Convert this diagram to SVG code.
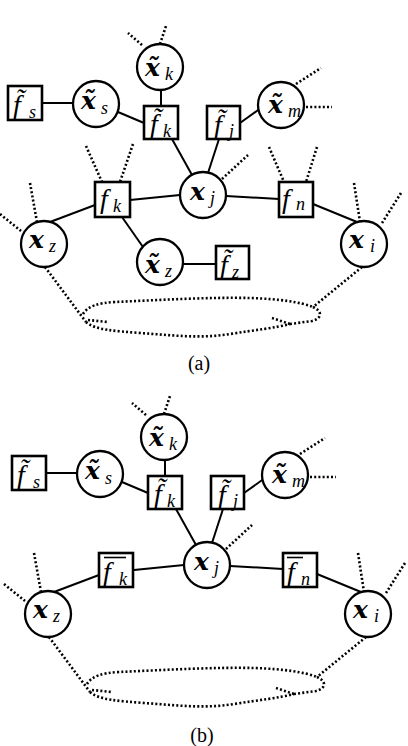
<svg xmlns="http://www.w3.org/2000/svg" width="408" height="746" viewBox="0 0 408 746">
<style>
.n{fill:#fff;stroke:#000;stroke-width:2.3}
.b{fill:#fff;stroke:#000;stroke-width:2.6}
.e{stroke:#000;stroke-width:2;fill:none}
.d{stroke:#000;stroke-width:2.6;fill:none;stroke-dasharray:2 2.2}
.bar{stroke:#000;stroke-width:1.6}
.mx{font-family:"DejaVu Serif",serif;font-weight:bold;font-style:italic;font-size:25px}
.mf{font-family:"Liberation Serif",serif;font-style:italic;font-size:28px}
.s{font-family:"Liberation Serif",serif;font-weight:normal;font-style:italic;font-size:18px}
.cap{font-family:"Liberation Serif",serif;font-size:20px;text-anchor:middle}
</style>
<rect width="408" height="746" fill="#fff"/>

<!-- ===== Panel (a) ===== -->
<g id="panel-a">
<g id="a-edges">
<line class="e" x1="42" y1="103" x2="73" y2="103"/>
<line class="e" x1="118" y1="112" x2="144" y2="123"/>
<line class="e" x1="161" y1="90" x2="161" y2="106"/>
<line class="e" x1="172" y1="139" x2="192" y2="175"/>
<line class="e" x1="219" y1="139" x2="208" y2="173"/>
<line class="e" x1="240" y1="123" x2="261" y2="108"/>
<line class="e" x1="50" y1="222" x2="95" y2="205"/>
<line class="e" x1="130" y1="200" x2="180" y2="195"/>
<line class="e" x1="122" y1="217" x2="143" y2="247"/>
<line class="e" x1="183" y1="264" x2="216" y2="264"/>
<line class="e" x1="226" y1="196" x2="279" y2="199"/>
<line class="e" x1="313" y1="204" x2="357" y2="222"/>
<line class="d" x1="142" y1="45" x2="128" y2="33"/>
<line class="d" x1="160" y1="44" x2="166" y2="26"/>
<line class="d" x1="86" y1="146" x2="102" y2="182"/>
<line class="d" x1="133" y1="144" x2="120" y2="182"/>
<line class="d" x1="269" y1="147" x2="284" y2="182"/>
<line class="d" x1="317" y1="147" x2="306" y2="182"/>
<line class="d" x1="30" y1="183" x2="37" y2="222"/>
<line class="d" x1="0" y1="214" x2="21" y2="231"/>
<line class="d" x1="222" y1="179" x2="248" y2="155"/>
<line class="d" x1="296" y1="84" x2="321" y2="68"/>
<line class="d" x1="306" y1="107" x2="332" y2="107"/>
<line class="d" x1="354" y1="183" x2="360" y2="222"/>
<line class="d" x1="401" y1="193" x2="382" y2="223"/>
<path class="d" d="M45,267 L86,322"/>
<path class="d" d="M362,267 L313,307"/>
<path class="d" d="M83,314 C88,306 98,303 115,302 C160,300 210,297 250,298 C280,299 300,302 313,307"/>
<path class="d" d="M313,307 C322,311 323,318 312,321 L290,324"/>
<path class="d" d="M86,322 C95,330 115,331 140,333 C170,335 200,339 230,334 C255,330 275,328 290,324"/>
<path class="d" d="M272,318 L290,324"/>
<path class="d" d="M88,320 L108,322"/>
</g>

<g id="a-fs"><rect class="b" x="8" y="86" width="34" height="34"/><text class="mf" x="13" y="114">f̃<tspan class="s" x="29" y="118">s</tspan></text></g>
<g id="a-xs"><circle class="n" cx="96" cy="104" r="23"/><text class="mx" x="81" y="109">x̃<tspan class="s" x="101" y="114">s</tspan></text></g>
<g id="a-xk"><circle class="n" cx="160" cy="67" r="23"/><text class="mx" x="145" y="76">x̃<tspan class="s" x="165" y="80">k</tspan></text></g>
<g id="a-fk-t"><rect class="b" x="144" y="106" width="34" height="33"/><text class="mf" x="150" y="133">f̃<tspan class="s" x="163" y="137">k</tspan></text></g>
<g id="a-fj-t"><rect class="b" x="207" y="106" width="33" height="33"/><text class="mf" x="214" y="134">f̃<tspan class="s" x="229" y="137">j</tspan></text></g>
<g id="a-xm"><circle class="n" cx="281" cy="105" r="23"/><text class="mx" x="268" y="113">x̃<tspan class="s" x="288" y="117">m</tspan></text></g>
<g id="a-fk"><rect class="b" x="95" y="182" width="35" height="35"/><text class="mf" x="100" y="208">f<tspan class="s" x="113" y="212">k</tspan></text></g>
<g id="a-xj"><circle class="n" cx="203" cy="195" r="23"/><text class="mx" x="190" y="200">x<tspan class="s" x="210" y="204">j</tspan></text></g>
<g id="a-fn"><rect class="b" x="279" y="182" width="34" height="35"/><text class="mf" x="282" y="208">f<tspan class="s" x="296" y="210">n</tspan></text></g>
<g id="a-xz"><circle class="n" cx="44" cy="244" r="23"/><text class="mx" x="29" y="248">x<tspan class="s" x="49" y="252">z</tspan></text></g>
<g id="a-xi"><circle class="n" cx="364" cy="244" r="23"/><text class="mx" x="349" y="248">x<tspan class="s" x="370" y="252">i</tspan></text></g>
<g id="a-xz-t"><circle class="n" cx="160" cy="262" r="23"/><text class="mx" x="145" y="273">x̃<tspan class="s" x="165" y="277">z</tspan></text></g>
<g id="a-fz-t"><rect class="b" x="216" y="246" width="33" height="33"/><text class="mf" x="220" y="274">f̃<tspan class="s" x="232" y="278">z</tspan></text></g>
<text class="cap" x="199" y="370">(a)</text>
</g>

<!-- ===== Panel (b) ===== -->
<g id="panel-b" transform="translate(4,370)">
<g id="b-edges">
<line class="e" x1="42" y1="103" x2="73" y2="103"/>
<line class="e" x1="118" y1="112" x2="144" y2="123"/>
<line class="e" x1="161" y1="90" x2="161" y2="106"/>
<line class="e" x1="172" y1="139" x2="192" y2="175"/>
<line class="e" x1="219" y1="139" x2="208" y2="173"/>
<line class="e" x1="240" y1="123" x2="261" y2="108"/>
<line class="e" x1="50" y1="222" x2="95" y2="205"/>
<line class="e" x1="130" y1="200" x2="180" y2="195"/>
<line class="e" x1="226" y1="196" x2="279" y2="199"/>
<line class="e" x1="313" y1="204" x2="357" y2="222"/>
<line class="d" x1="142" y1="45" x2="128" y2="33"/>
<line class="d" x1="160" y1="44" x2="166" y2="26"/>
<line class="d" x1="30" y1="183" x2="37" y2="222"/>
<line class="d" x1="0" y1="214" x2="21" y2="231"/>
<line class="d" x1="222" y1="179" x2="248" y2="155"/>
<line class="d" x1="296" y1="84" x2="321" y2="68"/>
<line class="d" x1="306" y1="107" x2="332" y2="107"/>
<line class="d" x1="354" y1="183" x2="360" y2="222"/>
<line class="d" x1="401" y1="193" x2="382" y2="223"/>
<path class="d" d="M45,267 L86,322"/>
<path class="d" d="M362,267 L313,307"/>
<path class="d" d="M83,314 C88,306 98,303 115,302 C160,300 210,297 250,298 C280,299 300,302 313,307"/>
<path class="d" d="M313,307 C322,311 323,318 312,321 L290,324"/>
<path class="d" d="M86,322 C95,330 115,331 140,333 C170,335 200,339 230,334 C255,330 275,328 290,324"/>
<path class="d" d="M272,318 L290,324"/>
<path class="d" d="M88,320 L108,322"/>
</g>

<g id="b-fs"><rect class="b" x="8" y="86" width="34" height="34"/><text class="mf" x="13" y="114">f̃<tspan class="s" x="29" y="118">s</tspan></text></g>
<g id="b-xs"><circle class="n" cx="96" cy="104" r="23"/><text class="mx" x="81" y="109">x̃<tspan class="s" x="101" y="114">s</tspan></text></g>
<g id="b-xk"><circle class="n" cx="160" cy="67" r="23"/><text class="mx" x="145" y="76">x̃<tspan class="s" x="165" y="80">k</tspan></text></g>
<g id="b-fk-t"><rect class="b" x="144" y="106" width="34" height="33"/><text class="mf" x="150" y="133">f̃<tspan class="s" x="163" y="137">k</tspan></text></g>
<g id="b-fj-t"><rect class="b" x="207" y="106" width="33" height="33"/><text class="mf" x="214" y="134">f̃<tspan class="s" x="229" y="137">j</tspan></text></g>
<g id="b-xm"><circle class="n" cx="281" cy="105" r="23"/><text class="mx" x="268" y="113">x̃<tspan class="s" x="288" y="117">m</tspan></text></g>
<g id="b-fk-bar"><rect class="b" x="95" y="183" width="34" height="34"/><line class="bar" x1="100" y1="187.5" x2="122" y2="187.5"/><text class="mf" x="99" y="211">f<tspan class="s" x="115" y="215">k</tspan></text></g>
<g id="b-xj"><circle class="n" cx="203" cy="195" r="23"/><text class="mx" x="190" y="200">x<tspan class="s" x="210" y="204">j</tspan></text></g>
<g id="b-fn-bar"><rect class="b" x="279" y="183" width="34" height="34"/><line class="bar" x1="283" y1="187.5" x2="299" y2="187.5"/><text class="mf" x="283" y="211">f<tspan class="s" x="297" y="215">n</tspan></text></g>
<g id="b-xz"><circle class="n" cx="44" cy="244" r="23"/><text class="mx" x="29" y="248">x<tspan class="s" x="49" y="252">z</tspan></text></g>
<g id="b-xi"><circle class="n" cx="364" cy="244" r="23"/><text class="mx" x="349" y="248">x<tspan class="s" x="370" y="252">i</tspan></text></g>
<text class="cap" x="198" y="372">(b)</text>
</g>
</svg>
